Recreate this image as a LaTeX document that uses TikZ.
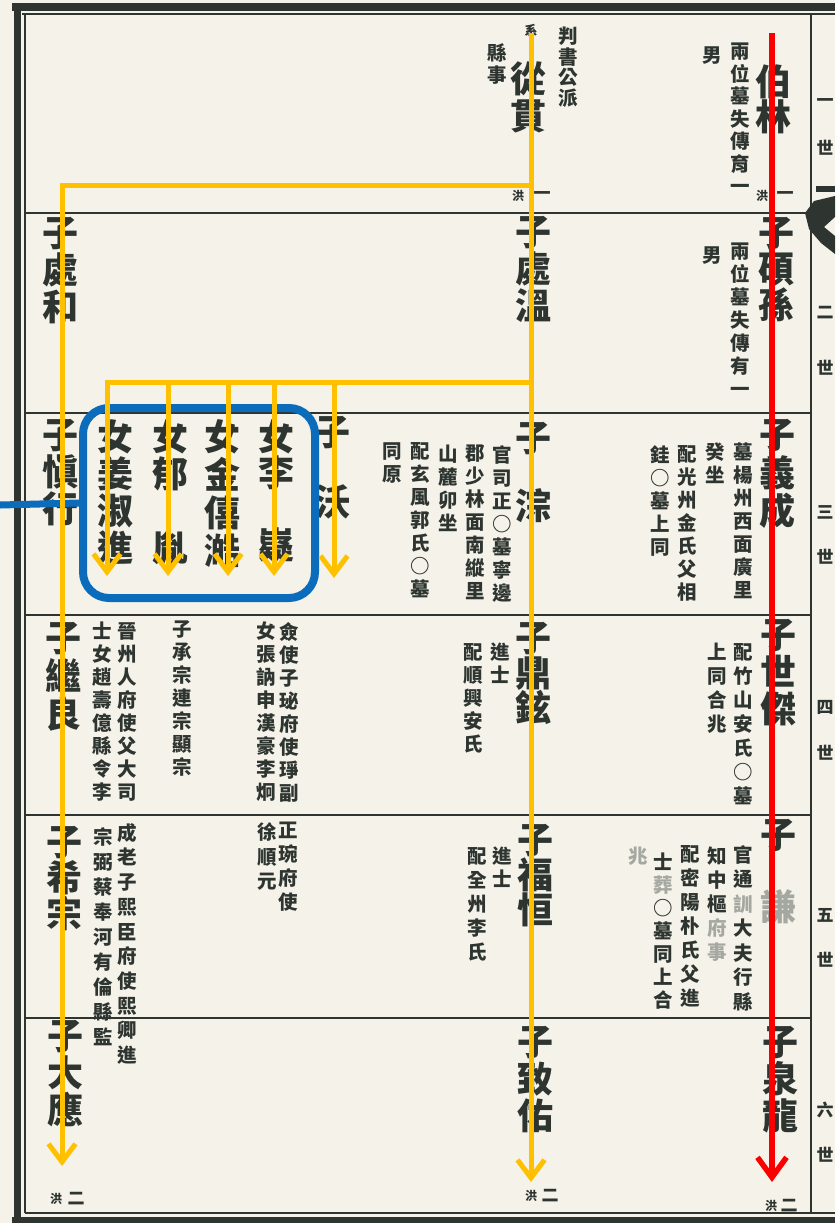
\documentclass[tikz,border=0pt]{standalone}
\usepackage{fontspec}
\newfontfamily\cjk{Noto Sans CJK TC}
\usetikzlibrary{arrows.meta}
\definecolor{paper}{RGB}{244,242,233}
\definecolor{ink}{RGB}{46,53,49}
\definecolor{amber}{RGB}{255,192,0}
\definecolor{redline}{RGB}{250,0,0}
\definecolor{boxblue}{RGB}{10,108,186}
\definecolor{faint}{RGB}{165,168,160}
\makeatletter
\newcommand\vcol[2]{\vbox{\baselineskip=#1\lineskiplimit=-100pt\lineskip=0pt\@tfor\vch:=#2\do{\hbox to 1.05em{\hss\vch\hss}}}}
\makeatother
\newcommand\fnt[1]{{\color{faint}#1}}
\newcommand\blank{\phantom{口}}
\begin{document}
\begin{tikzpicture}[x=1pt,y=-1pt,
  namecol/.style={font=\cjk\bfseries\fontsize{36pt}{36pt}\selectfont, text=ink, inner sep=0pt, anchor=north},
  notecol/.style={font=\cjk\bfseries\fontsize{19.5pt}{22pt}\selectfont, text=ink, inner sep=0pt, anchor=north},
  genlabel/.style={font=\cjk\bfseries\fontsize{17pt}{18pt}\selectfont, text=ink, inner sep=0pt},
  pagemarkS/.style={font=\cjk\bfseries\fontsize{12pt}{12pt}\selectfont, text=ink, inner sep=0pt},
  pagemarkL/.style={font=\cjk\bfseries\fontsize{17pt}{18pt}\selectfont, text=ink, inner sep=0pt},
  ruleline/.style={draw=ink, line width=2pt},
  amberarrow/.style={draw=amber, line width=5pt, line join=miter, -{Straight Barb[length=18pt,width=27pt]}},
  redarrow/.style={draw=redline, line width=5.5pt, -{Straight Barb[length=20pt,width=29pt]}},
  bluebox/.style={draw=boxblue, line width=8pt, rounded corners=26pt, inner sep=0pt, minimum width=232pt, minimum height=190pt}
]
\useasboundingbox[fill=paper] (0,0) rectangle (835,1223);

% frame
\draw[ink, line width=8pt] (12,7) -- (835,7);
\draw[ink, line width=1.5pt] (22,14) -- (835,14);
\draw[ink, line width=7pt] (17,3) -- (17,1223);
\draw[ink, line width=1.5pt] (25,14) -- (25,1213);
\draw[ink, line width=1.5pt] (25,1213) -- (835,1213);
\draw[ink, line width=6pt] (12,1220) -- (835,1220);
\draw[ink, line width=2pt] (811,14) -- (811,1213);
\foreach \yy in {213,413,615,815,1018} \draw[ruleline] (25,\yy) -- (811,\yy);
% fish tail ornament
\fill[ink] (816,186) rectangle (835,192);
\fill[ink] (835,196) -- (814,201) -- (805,213) -- (809,229) -- (821,243) -- (835,254) -- (835,236) -- (824,227) -- (835,217) -- cycle;

% generation labels
\node[genlabel] (g1a) at (825,103) {一};
\node[genlabel] (g1b) at (825,148) {世};
\node[genlabel] (g2a) at (825,313) {二};
\node[genlabel] (g2b) at (825,368) {世};
\node[genlabel] (g3a) at (825,512) {三};
\node[genlabel] (g3b) at (825,557) {世};
\node[genlabel] (g4a) at (825,707) {四};
\node[genlabel] (g4b) at (825,753) {世};
\node[genlabel] (g5a) at (825,915) {五};
\node[genlabel] (g5b) at (825,960) {世};
\node[genlabel] (g6a) at (825,1110) {六};
\node[genlabel] (g6b) at (825,1155) {世};

% page markers
\node[pagemarkS] (h1a) at (762,196) {洪};
\node[pagemarkL] (h1b) at (785,196) {一};
\node[pagemarkS] (h2a) at (518,196) {洪};
\node[pagemarkL] (h2b) at (542,196) {一};
\node[pagemarkS] (h3a) at (531,1196) {洪};
\node[pagemarkL] (h3b) at (550,1196) {二};
\node[pagemarkS] (h4a) at (771,1206) {洪};
\node[pagemarkL] (h4b) at (789,1206) {二};
\node[pagemarkS] (h5a) at (56,1199) {洪};
\node[pagemarkL] (h5b) at (76,1199) {二};

% names
\node[namecol] (bolin) at (773,64) {\vcol{35pt}{伯林}};
\node[namecol] (conggwan) at (528,62) {\vcol{37pt}{從貫}};
\node[namecol] (seoksun) at (776,217) {\vcol{36pt}{子碩孫}};
\node[namecol] (cheoon) at (533,216) {\vcol{37pt}{子處溫}};
\node[namecol] (cheohwa) at (60,217) {\vcol{37pt}{子處和}};
\node[namecol] (uiseong) at (777,419) {\vcol{38pt}{子義成}};
\node[namecol] (jong) at (533,422) {\vcol{34pt}{子\blank 淙}};
\node[namecol] (ok) at (332,416) {\vcol{35pt}{子\blank 沃}};
\node[namecol] (dau4) at (276,419) {\vcol{36pt}{女李\blank 嶷}};
\node[namecol] (dau3) at (222,419) {\vcol{38pt}{女金僖澔}};
\node[namecol] (dau2) at (170,419) {\vcol{37pt}{女郁\blank 胤}};
\node[namecol] (dau1) at (115,419) {\vcol{37pt}{女姜淑進}};
\node[namecol] (sinhaeng) at (60,419) {\vcol{37pt}{子愼行}};
\node[namecol] (segeol) at (778,619) {\vcol{37pt}{子世傑}};
\node[namecol] (jeonghyeon) at (533,622) {\vcol{35pt}{子鼎鉉}};
\node[namecol] (gyeryang) at (63,622) {\vcol{38pt}{子繼良}};
\node[namecol] (gen5) at (778,819) {\vcol{36pt}{子\blank{\fnt{謙}}}};
\node[namecol] (bokhang) at (535,824) {\vcol{35pt}{子福恒}};
\node[namecol] (huijong) at (64,826) {\vcol{36pt}{子希宗}};
\node[namecol] (cheonryong) at (780,1026) {\vcol{37pt}{子泉龍}};
\node[namecol] (chiu) at (535,1026) {\vcol{37pt}{子致佑}};
\node[namecol] (daeeung) at (65,1020) {\vcol{37pt}{子大應}};

% notes
\node[notecol] (t1) at (740,43) {\vcol{22.5pt}{兩位墓失傳育一}};
\node[notecol] (t2) at (712,47) {\vcol{22pt}{男}};
\node[notecol] (t3) at (568,27) {\vcol{20.5pt}{判書公派}};
\node[notecol] (t4) at (497,43) {\vcol{22pt}{縣事}};
\node[notecol, font=\cjk\bfseries\fontsize{13pt}{14pt}\selectfont] (t5) at (531,24) {系};
\node[notecol] (t6) at (740,243) {\vcol{23pt}{兩位墓失傳有一}};
\node[notecol] (t7) at (712,247) {\vcol{22pt}{男}};
\node[notecol] (t8) at (743,443) {\vcol{23pt}{墓楊州西面廣里}};
\node[notecol] (t9) at (715,443) {\vcol{23pt}{癸坐}};
\node[notecol] (t10) at (687,445) {\vcol{23pt}{配光州金氏父相}};
\node[notecol] (t11) at (660,445) {\vcol{23pt}{銈○墓上同}};
\node[notecol] (t12) at (502,445) {\vcol{23pt}{官司正○墓寧邊}};
\node[notecol] (t13) at (475,445) {\vcol{23pt}{郡少林面南縱里}};
\node[notecol] (t14) at (448,445) {\vcol{23pt}{山麓卯坐}};
\node[notecol] (t15) at (420,442) {\vcol{23pt}{配玄風郭氏○墓}};
\node[notecol] (t16) at (392,442) {\vcol{23pt}{同原}};
\node[notecol] (t17) at (743,643) {\vcol{24pt}{配竹山安氏○墓}};
\node[notecol] (t18) at (717,643) {\vcol{24pt}{上同合兆}};
\node[notecol] (t19) at (500,643) {\vcol{23pt}{進士}};
\node[notecol] (t20) at (473,643) {\vcol{23pt}{配順興安氏}};
\node[notecol] (t21) at (127,622) {\vcol{23pt}{晉州人府使父大司}};
\node[notecol] (t22) at (102,622) {\vcol{23pt}{士女趙壽億縣令李}};
\node[notecol] (t23) at (182,620) {\vcol{23pt}{子承宗連宗顯宗}};
\node[notecol] (t24) at (289,622) {\vcol{23pt}{僉使子珌府使琤副}};
\node[notecol] (t25) at (266,622) {\vcol{23pt}{女張訥申漢豪李炯}};
\node[notecol] (t26) at (743,845) {\vcol{24.5pt}{官通{\fnt{訓}}大夫行縣}};
\node[notecol] (t27) at (717,847) {\vcol{24pt}{知中樞{\fnt{府}}{\fnt{事}}}};
\node[notecol] (t28) at (690,845) {\vcol{24pt}{配密陽朴氏父進}};
\node[notecol] (t29) at (663,853) {\vcol{23pt}{士{\fnt{葬}}○墓同上合}};
\node[notecol] (t30) at (638,847) {\fnt{兆}};
\node[notecol] (t31) at (502,847) {\vcol{23pt}{進士}};
\node[notecol] (t32) at (477,847) {\vcol{24pt}{配全州李氏}};
\node[notecol] (t33) at (127,823) {\vcol{24.7pt}{成老子熙臣府使熙卿進}};
\node[notecol] (t34) at (103,827) {\vcol{25pt}{宗弼蔡奉河有倫縣監}};
\node[notecol] (t35) at (288,822) {\vcol{24pt}{正琬府使}};
\node[notecol] (t36) at (267,823) {\vcol{24pt}{徐順元}};

% blue box
\node[bluebox] (sisters) at (199,503) {};
\coordinate (blueStart) at (0,505);
\draw[boxblue, line width=7pt] (blueStart) -- (sisters.west);

% orange arrows
\coordinate (aTop) at (531,33);
\coordinate (aEnd) at (531,1182);
\coordinate (aJoin1) at (531,185);
\coordinate (aLeft) at (62,185);
\coordinate (aLeftEnd) at (62,1166);
\coordinate (aJoin2) at (531,382);
\coordinate (b1) at (107,382);
\coordinate (b1e) at (107,576);
\coordinate (b2) at (168,382);
\coordinate (b2e) at (168,576);
\coordinate (b3) at (228,382);
\coordinate (b3e) at (228,576);
\coordinate (b4) at (274,382);
\coordinate (b4e) at (274,576);
\coordinate (b5) at (334,382);
\coordinate (b5e) at (334,578);
\draw[amberarrow] (aTop) -- (aEnd);
\draw[amberarrow] (aJoin1) -- (aLeft) -- (aLeftEnd);
\draw[amberarrow] (aJoin2) -- (b1) -- (b1e);
\draw[amberarrow] (b2) -- (b2e);
\draw[amberarrow] (b3) -- (b3e);
\draw[amberarrow] (b4) -- (b4e);
\draw[amberarrow] (b5) -- (b5e);

% red arrow
\coordinate (rTop) at (772,33);
\coordinate (rEnd) at (772,1182);
\draw[redarrow] (rTop) -- (rEnd);
\end{tikzpicture}
\end{document}
